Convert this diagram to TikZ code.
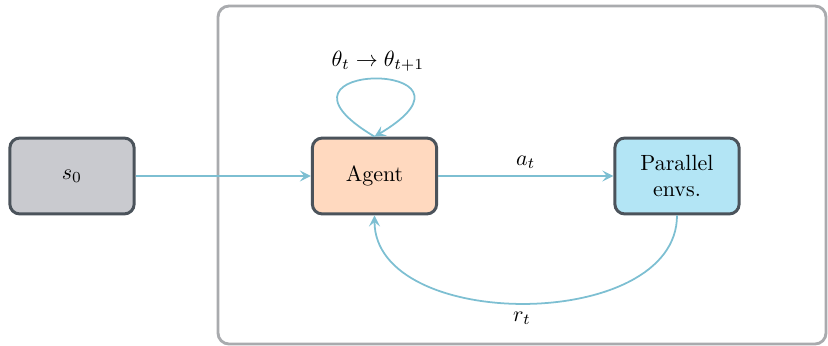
\documentclass[tikz,border=0pt]{standalone}
\usetikzlibrary{arrows.meta}
\definecolor{boxborder}{HTML}{4B535B}
\definecolor{sfill}{HTML}{C9CACF}
\definecolor{agfill}{HTML}{FFD9BF}
\definecolor{envfill}{HTML}{B3E5F5}
\definecolor{arrowc}{HTML}{7DBFD2}
\definecolor{framec}{HTML}{A9ABAE}
\begin{document}
\begin{tikzpicture}[x=0.4545pt,y=-0.4545pt,
  blockbox/.style={draw=boxborder,line width=1.35pt,rounded corners=4.5pt,
    minimum width=56.5pt,minimum height=34.5pt,inner sep=0pt,align=center},
  conn/.style={draw=arrowc,line width=0.8pt,-{Stealth[length=5pt,width=5pt,inset=2pt]}},
  lab/.style={inner sep=1pt}]
\useasboundingbox (0,0) rectangle (828,345);
\draw[framec,line width=1.3pt,rounded corners=5pt] (218,6) rectangle (826,344);
\node[blockbox,fill=sfill] (s0) at (72,176) {$s_0$};
\node[blockbox,fill=agfill] (agent) at (374.5,176) {Agent};
\node[blockbox,fill=envfill] (env) at (677,176) {Parallel\\envs.};
\draw[conn] (s0) -- (agent);
\draw[conn] (agent) -- node[lab,above=2pt] (at) {$a_t$} (env);
\coordinate (atop) at (agent.north);
\draw[conn] (atop) .. controls +(-130,-77) and +(130,-77) .. (atop);
\node[lab] (theta) at (378,61) {$\theta_t \rightarrow \theta_{t+1}$};
\draw[conn] (env.south) .. controls +(0,117) and +(0,117) .. (agent.south);
\node[lab] (rt) at (522,318) {$r_t$};
\end{tikzpicture}
\end{document}
